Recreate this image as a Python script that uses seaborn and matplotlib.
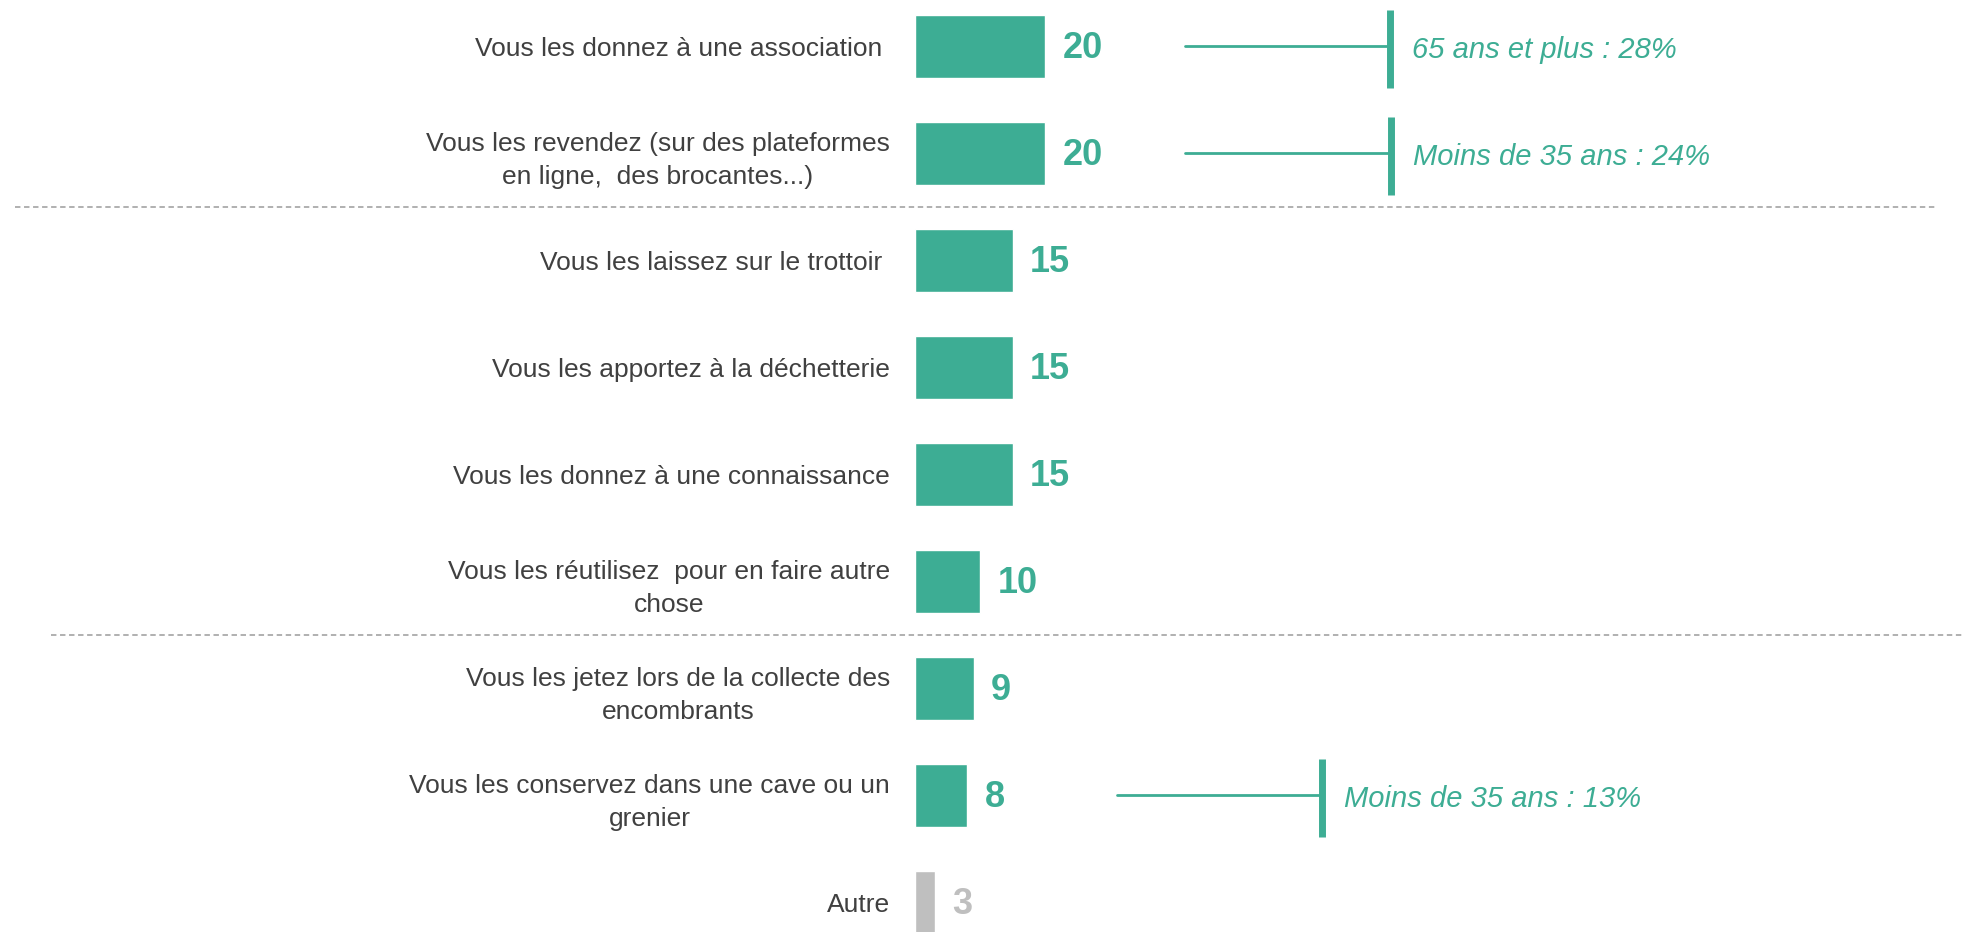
import matplotlib
matplotlib.use("Agg")
import matplotlib.pyplot as plt
import seaborn as sns

categories = [
    "Vous les donnez à une association ",
    "Vous les revendez (sur des plateformes\nen ligne,  des brocantes...)",
    "Vous les laissez sur le trottoir ",
    "Vous les apportez à la déchetterie",
    "Vous les donnez à une connaissance",
    "Vous les réutilisez  pour en faire autre\nchose",
    "Vous les jetez lors de la collecte des\nencombrants",
    "Vous les conservez dans une cave ou un\ngrenier",
    "Autre",
]
values = [20, 20, 15, 15, 15, 10, 9, 8, 3]

# notes on the right: row index -> text
notes_rows = [0, 1, 7]
notes_text = ["65 ans et plus : 28%", "Moins de 35 ans : 24%", "Moins de 35 ans : 13%"]
notes_gap = [21.5, 21.6, 23]

separators = [1.5, 5.5]

TEAL = "#3dad94"
GREY = "#bfbfbf"
TEXT = "#404040"

sns.set_theme(style="white")
plt.rcParams["font.family"] = ["Liberation Sans", "DejaVu Sans"]

fig = plt.figure(figsize=(19.62, 9.32), dpi=100)
ax = fig.add_axes([915 / 1962, 0, 1 - 915 / 1962, 1])

colors = [GREY if c == "Autre" else TEAL for c in categories]
sns.barplot(x=values, y=categories, hue=categories, palette=colors,
            legend=False, orient="h", width=0.585, ax=ax, saturation=1)

ax.set_xlim(0, (1962 - 915) / 6.5)
ax.set_ylim(8.277, -0.433)
ax.set_xlabel(""); ax.set_ylabel("")
ax.set_xticks([])
sns.despine(ax=ax, left=True, bottom=True)
ax.tick_params(axis="y", length=0, pad=18, labelsize=19, labelcolor=TEXT)
for lab in ax.get_yticklabels():
    lab.set_multialignment("center")
    lab.set_linespacing(1.5)

# value labels
for i, v in enumerate(values):
    ax.text(v + 2.7, i + 0.02, str(v), va="center", ha="left", fontsize=26,
            fontweight="bold", color=colors[i])

# dashed separators across the figure
ax.plot([-138.5, 157], [separators[0]] * 2, color="#aaaaaa", lw=1.3,
        ls=(0, (3, 2)), clip_on=False)
ax.plot([-133, 162], [separators[1]] * 2, color="#aaaaaa", lw=1.3,
        ls=(0, (3, 2)), clip_on=False)

# side notes
for r, t, g in zip(notes_rows, notes_text, notes_gap):
    x0 = values[r] + g
    x1 = x0 + 31.6
    ax.plot([x0, x1], [r, r], color=TEAL, lw=2)
    ax.plot([x1, x1], [r - 0.34, r + 0.39], color=TEAL, lw=5,
            solid_capstyle="butt")
    ax.text(x1 + 3.4, r + 0.03, t, va="center", ha="left", fontsize=21,
            fontstyle="italic", color=TEAL)

fig.savefig("out.png", dpi=100)
